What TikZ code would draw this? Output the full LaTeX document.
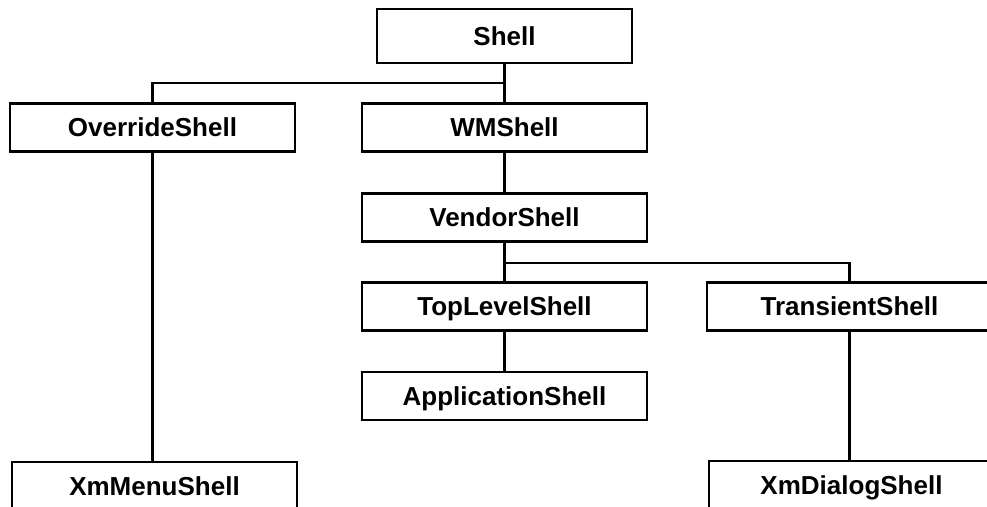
\documentclass[tikz,border=0pt]{standalone}
\usepackage{fontspec}
\setmainfont{Liberation Sans}
\begin{document}
\begin{tikzpicture}[x=1pt,y=-1pt,
        shellbox/.style={draw, line width=2.3pt, minimum width=285pt, minimum height=48pt,
                         inner sep=0pt, text height=18.5pt, text depth=0pt,
                         font=\fontsize{26}{31}\selectfont\bfseries},
        link/.style={line width=2.3pt}]
        \useasboundingbox (0,0) rectangle (987,506);
        \clip (0,0) rectangle (987,506);

        \node[shellbox, minimum width=255pt, minimum height=54pt] (shell) at (504.5,36) {Shell};
        \node[shellbox] (override) at (152.5,127.5) {OverrideShell};
        \node[shellbox] (wm) at (504.5,127.5) {WMShell};
        \node[shellbox] (vendor) at (504.5,217.5) {VendorShell};
        \node[shellbox] (toplevel) at (504.5,306.5) {TopLevelShell};
        \node[shellbox] (transient) at (849.5,306.5) {TransientShell};
        \node[shellbox] (app) at (504.5,396) {ApplicationShell};
        \node[shellbox] (xmmenu) at (154.5,486) {XmMenuShell};
        \node[shellbox] (xmdialog) at (851.5,485) {XmDialogShell};

        \coordinate (J) at (504.5,83);
        \coordinate (K) at (504.5,263);

        \draw[link] (shell.south) -- (wm.north);
        \draw[link] (override.north) |- (J);
        \draw[link] (override.south) -- (override.south |- xmmenu.north);
        \draw[link] (wm.south) -- (vendor.north);
        \draw[link] (vendor.south) -- (toplevel.north);
        \draw[link] (K) -| (transient.north);
        \draw[link] (toplevel.south) -- (app.north);
        \draw[link] (transient.south) -- (transient.south |- xmdialog.north);
\end{tikzpicture}
\end{document}
